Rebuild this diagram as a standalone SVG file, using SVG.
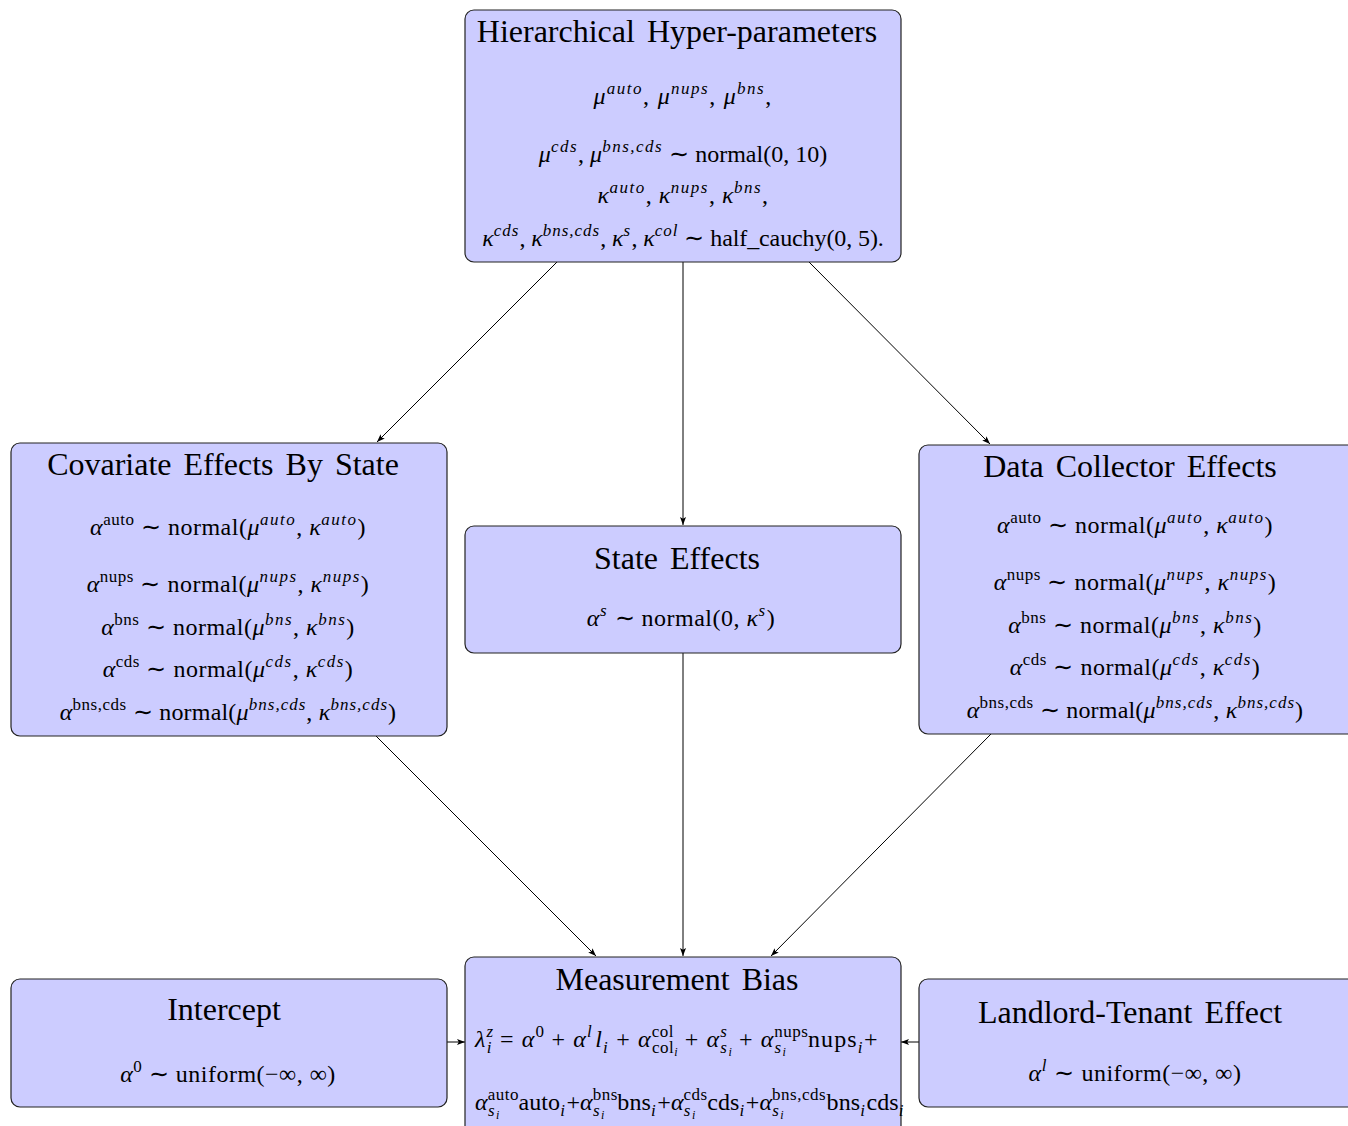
<svg xmlns="http://www.w3.org/2000/svg" width="1348" height="1126" viewBox="0 0 1348 1126">
<style>
.box{fill:#ccccff;stroke:#222;stroke-width:1.2}
.t{font-family:"Liberation Serif","Times New Roman",serif;font-size:32px;fill:#000;text-anchor:middle;word-spacing:4px}
.m{font-family:"Liberation Serif","Times New Roman",serif;font-size:24px;fill:#000;letter-spacing:0.5px}
.c{text-anchor:middle}
.i{font-style:italic}
.s{font-size:17px;letter-spacing:0.5px}
.si{font-size:17px;font-style:italic;letter-spacing:1.5px}
.ss{font-size:12px;font-style:italic;letter-spacing:0}
.conn{stroke:#000;stroke-width:1;fill:none;marker-end:url(#ah)}
</style>
<defs>
<marker id="ah" markerUnits="userSpaceOnUse" markerWidth="9" markerHeight="7" refX="8" refY="3" orient="auto">
<path d="M0,0 L8,3 L0,6 L1.8,3 z" fill="#000"/>
</marker>
</defs>
<rect width="1348" height="1126" fill="#fff"/>

<g id="connectors">
<line class="conn" x1="557" y1="262" x2="377" y2="442"/>
<line class="conn" x1="683" y1="262" x2="683" y2="525"/>
<line class="conn" x1="809" y1="262" x2="990" y2="444"/>
<line class="conn" x1="683" y1="653" x2="683" y2="956"/>
<line class="conn" x1="376" y1="736" x2="596" y2="956"/>
<line class="conn" x1="991" y1="734" x2="771" y2="956"/>
<line class="conn" x1="447" y1="1042" x2="465" y2="1042"/>
<line class="conn" x1="919" y1="1042" x2="901" y2="1042"/>
</g>

<g id="hyper">
<rect class="box" x="465" y="10" width="436" height="252" rx="9"/>
<text class="t" x="677" y="42">Hierarchical Hyper-parameters</text>
<text class="m c" x="683" y="104" style="letter-spacing:1.3px"><tspan class="i">μ</tspan><tspan class="si" dy="-10">auto</tspan><tspan dy="10">, </tspan><tspan class="i">μ</tspan><tspan class="si" dy="-10">nups</tspan><tspan dy="10">, </tspan><tspan class="i">μ</tspan><tspan class="si" dy="-10">bns</tspan><tspan dy="10">,</tspan></text>
<text class="m c" x="683" y="162" style="letter-spacing:0"><tspan class="i">μ</tspan><tspan class="si" dy="-10">cds</tspan><tspan dy="10">, </tspan><tspan class="i">μ</tspan><tspan class="si" dy="-10">bns,cds</tspan><tspan dy="10"> ∼ normal(0, 10)</tspan></text>
<text class="m c" x="683" y="203"><tspan class="i">κ</tspan><tspan class="si" dy="-10">auto</tspan><tspan dy="10">, </tspan><tspan class="i">κ</tspan><tspan class="si" dy="-10">nups</tspan><tspan dy="10">, </tspan><tspan class="i">κ</tspan><tspan class="si" dy="-10">bns</tspan><tspan dy="10">,</tspan></text>
<text class="m c" x="683" y="246" style="letter-spacing:-0.1px"><tspan class="i">κ</tspan><tspan class="si" dy="-10" style="letter-spacing:1px">cds</tspan><tspan dy="10">, </tspan><tspan class="i">κ</tspan><tspan class="si" dy="-10" style="letter-spacing:1px">bns,cds</tspan><tspan dy="10">, </tspan><tspan class="i">κ</tspan><tspan class="si" dy="-10">s</tspan><tspan dy="10">, </tspan><tspan class="i">κ</tspan><tspan class="si" dy="-10" style="letter-spacing:1px">col</tspan><tspan dy="10"> ∼ half_cauchy(0, 5).</tspan></text>
</g>

<g id="covariate">
<rect class="box" x="11" y="443" width="436" height="293" rx="9"/>
<text class="t" x="223" y="475">Covariate Effects By State</text>
<text class="m c" x="228" y="535"><tspan class="i">α</tspan><tspan class="s" dy="-10">auto</tspan><tspan dy="10"> ∼ normal(</tspan><tspan class="i">μ</tspan><tspan class="si" dy="-10">auto</tspan><tspan dy="10">, </tspan><tspan class="i">κ</tspan><tspan class="si" dy="-10">auto</tspan><tspan dy="10">)</tspan></text>
<text class="m c" x="228" y="592"><tspan class="i">α</tspan><tspan class="s" dy="-10">nups</tspan><tspan dy="10"> ∼ normal(</tspan><tspan class="i">μ</tspan><tspan class="si" dy="-10">nups</tspan><tspan dy="10">, </tspan><tspan class="i">κ</tspan><tspan class="si" dy="-10">nups</tspan><tspan dy="10">)</tspan></text>
<text class="m c" x="228" y="635"><tspan class="i">α</tspan><tspan class="s" dy="-10">bns</tspan><tspan dy="10"> ∼ normal(</tspan><tspan class="i">μ</tspan><tspan class="si" dy="-10">bns</tspan><tspan dy="10">, </tspan><tspan class="i">κ</tspan><tspan class="si" dy="-10">bns</tspan><tspan dy="10">)</tspan></text>
<text class="m c" x="228" y="677"><tspan class="i">α</tspan><tspan class="s" dy="-10">cds</tspan><tspan dy="10"> ∼ normal(</tspan><tspan class="i">μ</tspan><tspan class="si" dy="-10">cds</tspan><tspan dy="10">, </tspan><tspan class="i">κ</tspan><tspan class="si" dy="-10">cds</tspan><tspan dy="10">)</tspan></text>
<text class="m c" x="228" y="720" style="letter-spacing:0.2px"><tspan class="i">α</tspan><tspan class="s" dy="-10">bns,cds</tspan><tspan dy="10"> ∼ normal(</tspan><tspan class="i">μ</tspan><tspan class="si" dy="-10" style="letter-spacing:1px">bns,cds</tspan><tspan dy="10">, </tspan><tspan class="i">κ</tspan><tspan class="si" dy="-10" style="letter-spacing:1px">bns,cds</tspan><tspan dy="10">)</tspan></text>
</g>

<g id="collector">
<rect class="box" x="919" y="445" width="440" height="289" rx="9"/>
<text class="t" x="1130" y="477">Data Collector Effects</text>
<text class="m c" x="1135" y="533"><tspan class="i">α</tspan><tspan class="s" dy="-10">auto</tspan><tspan dy="10"> ∼ normal(</tspan><tspan class="i">μ</tspan><tspan class="si" dy="-10">auto</tspan><tspan dy="10">, </tspan><tspan class="i">κ</tspan><tspan class="si" dy="-10">auto</tspan><tspan dy="10">)</tspan></text>
<text class="m c" x="1135" y="590"><tspan class="i">α</tspan><tspan class="s" dy="-10">nups</tspan><tspan dy="10"> ∼ normal(</tspan><tspan class="i">μ</tspan><tspan class="si" dy="-10">nups</tspan><tspan dy="10">, </tspan><tspan class="i">κ</tspan><tspan class="si" dy="-10">nups</tspan><tspan dy="10">)</tspan></text>
<text class="m c" x="1135" y="633"><tspan class="i">α</tspan><tspan class="s" dy="-10">bns</tspan><tspan dy="10"> ∼ normal(</tspan><tspan class="i">μ</tspan><tspan class="si" dy="-10">bns</tspan><tspan dy="10">, </tspan><tspan class="i">κ</tspan><tspan class="si" dy="-10">bns</tspan><tspan dy="10">)</tspan></text>
<text class="m c" x="1135" y="675"><tspan class="i">α</tspan><tspan class="s" dy="-10">cds</tspan><tspan dy="10"> ∼ normal(</tspan><tspan class="i">μ</tspan><tspan class="si" dy="-10">cds</tspan><tspan dy="10">, </tspan><tspan class="i">κ</tspan><tspan class="si" dy="-10">cds</tspan><tspan dy="10">)</tspan></text>
<text class="m c" x="1135" y="718" style="letter-spacing:0.2px"><tspan class="i">α</tspan><tspan class="s" dy="-10">bns,cds</tspan><tspan dy="10"> ∼ normal(</tspan><tspan class="i">μ</tspan><tspan class="si" dy="-10" style="letter-spacing:1px">bns,cds</tspan><tspan dy="10">, </tspan><tspan class="i">κ</tspan><tspan class="si" dy="-10" style="letter-spacing:1px">bns,cds</tspan><tspan dy="10">)</tspan></text>
</g>

<g id="state">
<rect class="box" x="465" y="526" width="436" height="127" rx="9"/>
<text class="t" x="677" y="569">State Effects</text>
<text class="m c" x="681" y="626"><tspan class="i">α</tspan><tspan class="si" dy="-10">s</tspan><tspan dy="10"> ∼ normal(0, </tspan><tspan class="i">κ</tspan><tspan class="si" dy="-10">s</tspan><tspan dy="10">)</tspan></text>
</g>

<g id="measurement">
<rect class="box" x="465" y="957" width="436" height="180" rx="9"/>
<text class="t" x="677" y="990">Measurement Bias</text>
<text class="m" x="475" y="1047" style="letter-spacing:1.1px"><tspan class="i">λ</tspan><tspan class="si" dy="-10">z</tspan><tspan class="si" dx="-8" dy="16">i</tspan><tspan dy="-6"> = </tspan><tspan class="i">α</tspan><tspan class="s" dy="-10">0</tspan><tspan dy="10"> + </tspan><tspan class="i">α</tspan><tspan class="si" dy="-10">l</tspan><tspan class="i" dx="2" dy="10">l</tspan><tspan class="si" dy="6">i</tspan><tspan dy="-6"> + </tspan><tspan class="i">α</tspan><tspan class="s" dy="-10">col</tspan><tspan class="s" dx="-22" dy="16">col</tspan><tspan class="ss" dy="3">i</tspan><tspan dy="-9"> + </tspan><tspan class="i">α</tspan><tspan class="si" dy="-10">s</tspan><tspan class="si" dx="-8" dy="16">s</tspan><tspan class="ss" dy="3">i</tspan><tspan dy="-9"> + </tspan><tspan class="i">α</tspan><tspan class="s" dy="-10">nups</tspan><tspan class="si" dx="-34" dy="16">s</tspan><tspan class="ss" dy="3">i</tspan><tspan dx="22" dy="-9">nups</tspan><tspan class="si" dy="6">i</tspan><tspan dy="-6">+</tspan></text>
<text class="m" x="475" y="1110" style="letter-spacing:0.1px"><tspan class="i">α</tspan><tspan class="s" dy="-10">auto</tspan><tspan class="si" dx="-31" dy="16">s</tspan><tspan class="ss" dy="3">i</tspan><tspan dx="19" dy="-9">auto</tspan><tspan class="si" dy="6">i</tspan><tspan dy="-6">+</tspan><tspan class="i">α</tspan><tspan class="s" dy="-10">bns</tspan><tspan class="si" dx="-25" dy="16">s</tspan><tspan class="ss" dy="3">i</tspan><tspan dx="13" dy="-9">bns</tspan><tspan class="si" dy="6">i</tspan><tspan dy="-6">+</tspan><tspan class="i">α</tspan><tspan class="s" dy="-10">cds</tspan><tspan class="si" dx="-24" dy="16">s</tspan><tspan class="ss" dy="3">i</tspan><tspan dx="12" dy="-9">cds</tspan><tspan class="si" dy="6">i</tspan><tspan dy="-6">+</tspan><tspan class="i">α</tspan><tspan class="s" dy="-10">bns,cds</tspan><tspan class="si" dx="-54" dy="16">s</tspan><tspan class="ss" dy="3">i</tspan><tspan dx="43" dy="-9">bns</tspan><tspan class="si" dy="6">i</tspan><tspan dy="-6">cds</tspan><tspan class="si" dy="6">i</tspan></text>
</g>

<g id="intercept">
<rect class="box" x="11" y="979" width="436" height="128" rx="9"/>
<text class="t" x="224" y="1020">Intercept</text>
<text class="m c" x="228" y="1082"><tspan class="i">α</tspan><tspan class="s" dy="-10">0</tspan><tspan dy="10"> ∼ uniform(−∞, ∞)</tspan></text>
</g>

<g id="landlord">
<rect class="box" x="919" y="979" width="440" height="128" rx="9"/>
<text class="t" x="1130" y="1023">Landlord-Tenant Effect</text>
<text class="m c" x="1135" y="1081"><tspan class="i">α</tspan><tspan class="si" dy="-10">l</tspan><tspan dy="10"> ∼ uniform(−∞, ∞)</tspan></text>
</g>
</svg>
